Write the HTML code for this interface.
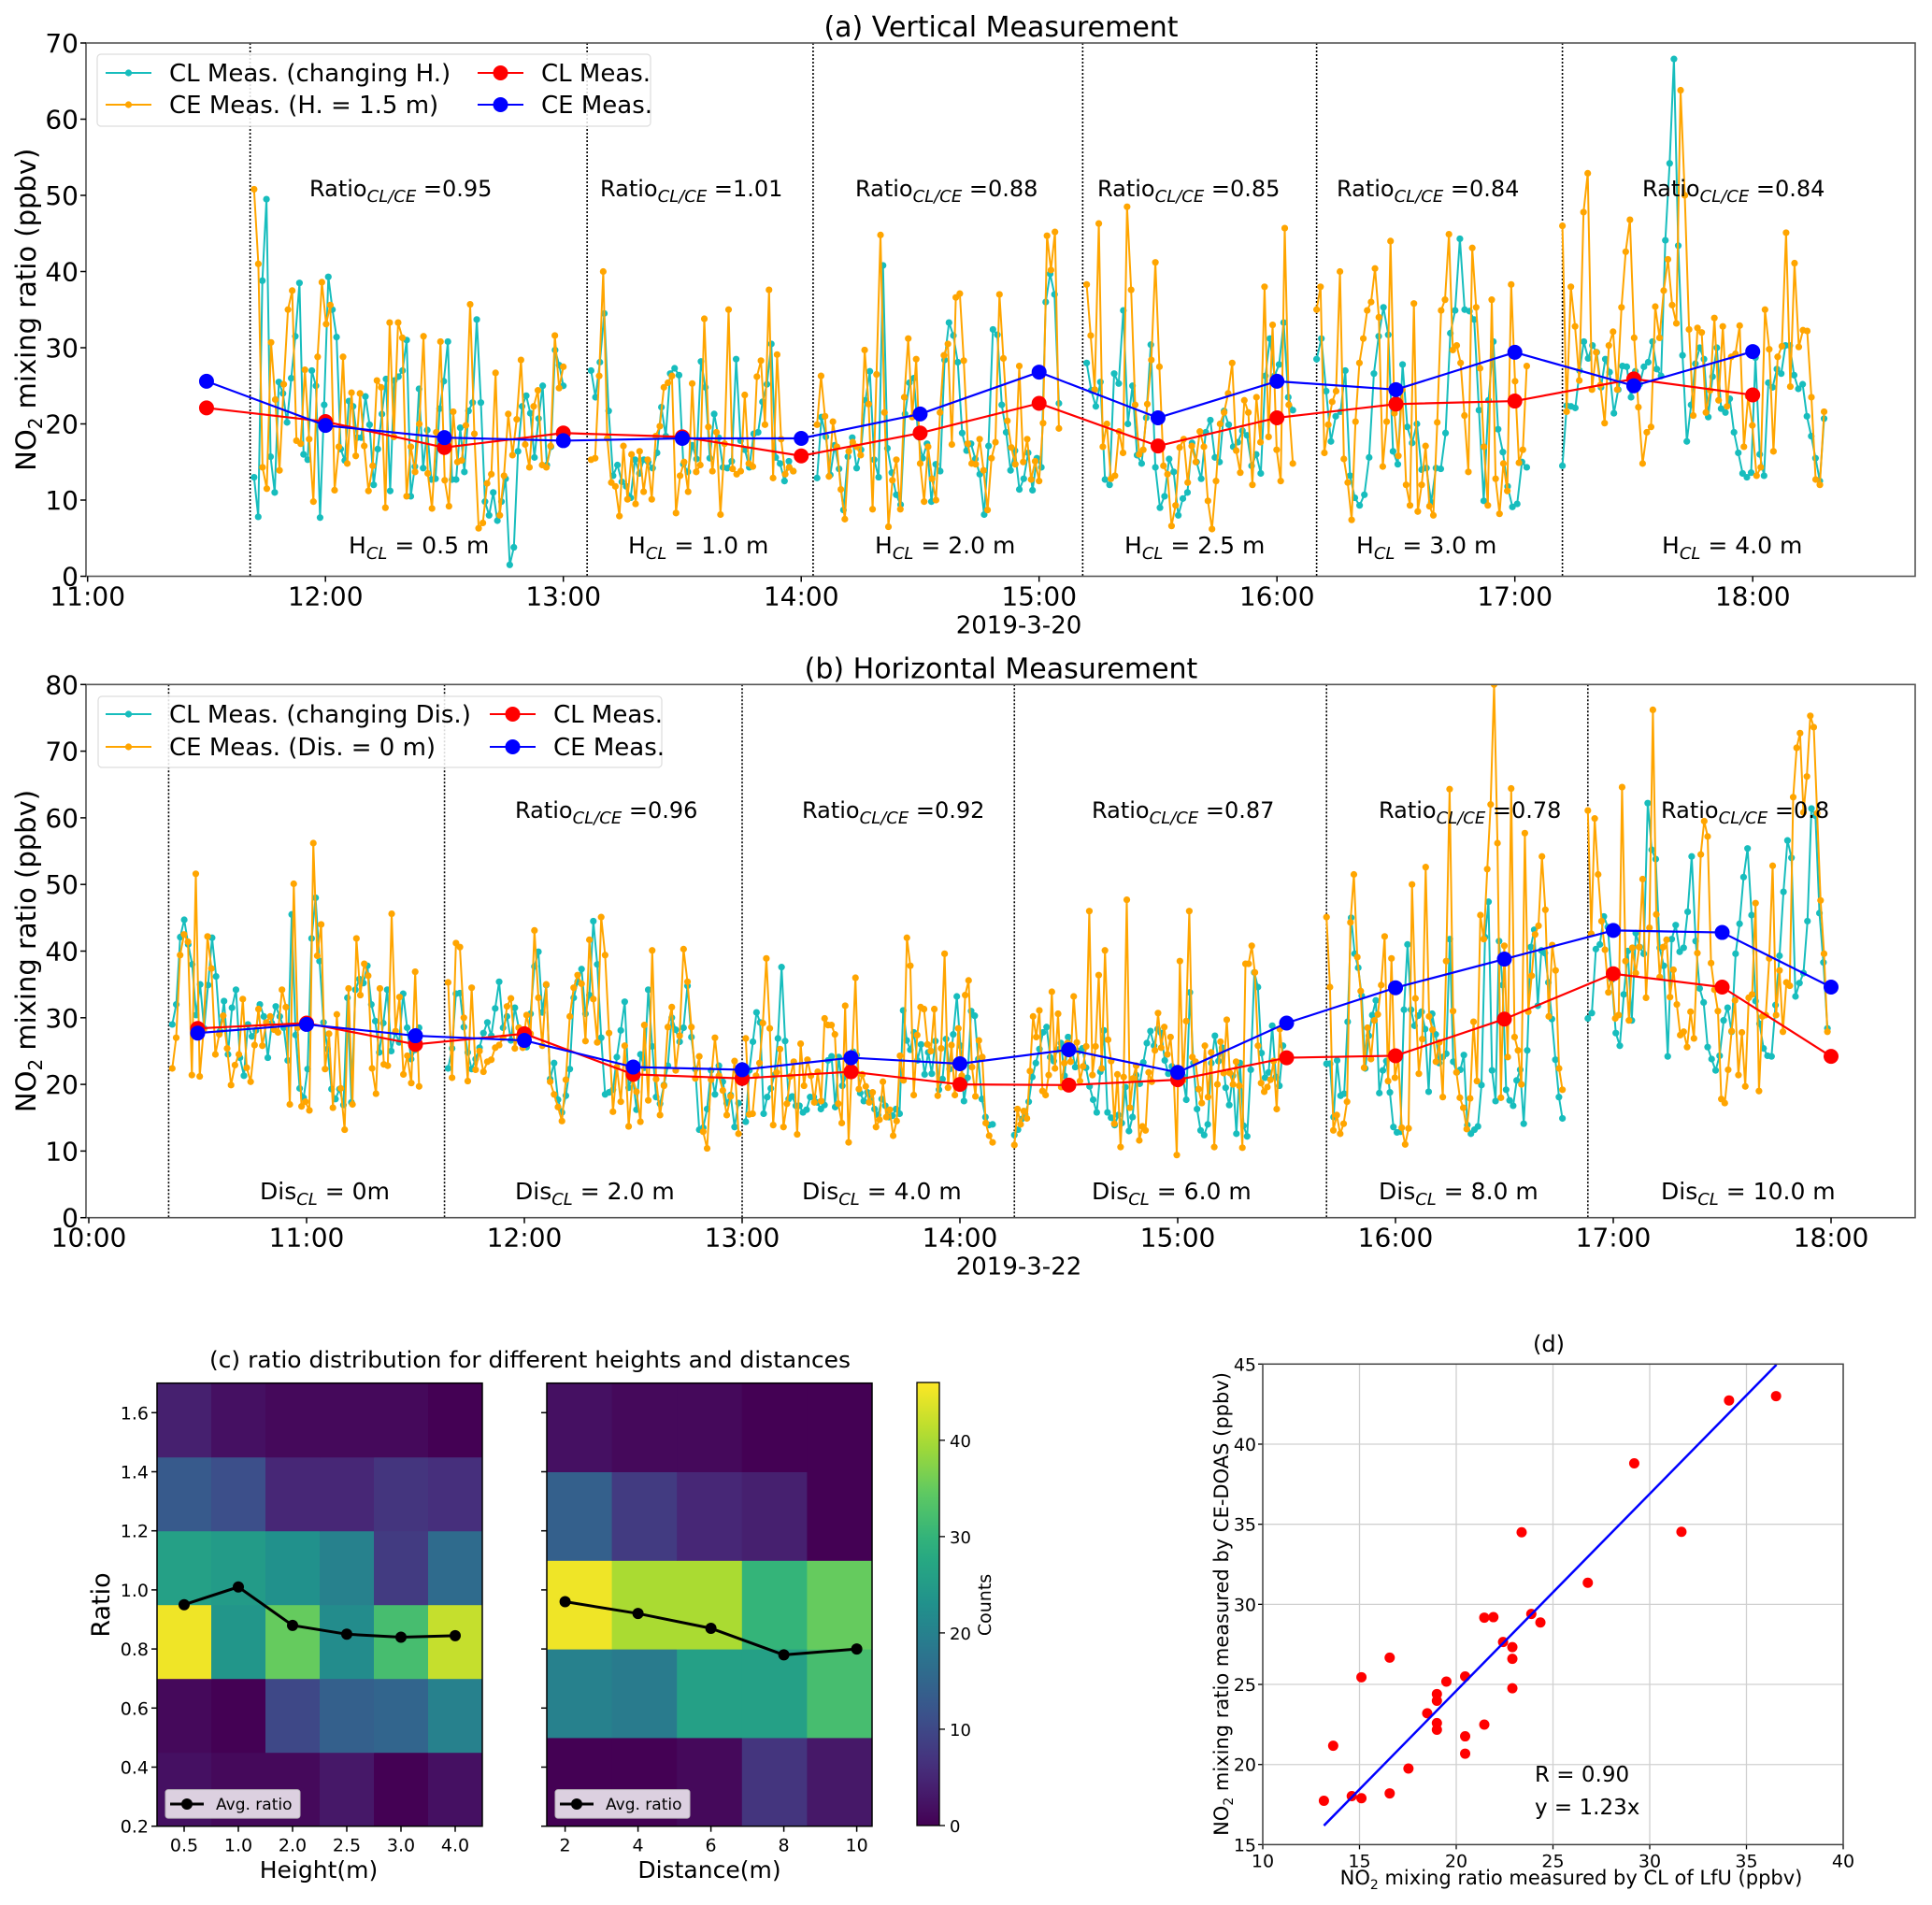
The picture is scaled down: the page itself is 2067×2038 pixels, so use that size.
<!DOCTYPE html>
<html><head><meta charset="utf-8">
<style>
html,body{margin:0;padding:0;background:#fff;}
svg{display:block;font-family:"DejaVu Sans","Liberation Sans",sans-serif;}
</style></head>
<body>
<svg id="fig" xmlns="http://www.w3.org/2000/svg" width="2067" height="2038" viewBox="0 0 2067 2038">
<rect x="0" y="0" width="2067" height="2038" fill="#fff"/>
</svg>
<script>
// ---------- Panel (a) data ----------
const aSegStart=["11:42","13:07","14:04","15:12","16:10","17:12"];
const aSegEnd=["13:00","13:58","15:05","16:04","17:03","18:18"];
const aDivTimes=["11:41","13:06","14:03","15:11","16:10","17:12"];
const aCE1=[50.8,41,14.3,11.5,30.7,23.2,13.9,25.2,35,37.5,17.8,17.4,27.1,18,9.8,28.8,38.6,33.1,35.6,11.3,17,28.8,14.8,24.1,15.8,24,17.1,11.2,14.5,25.7,24.8,9,33.3,18.3,33.3,31.3,10.5,17,13.7,20,31.5,13.5,8.9,18.9,30.8,12.6,9.2,21.6,15,15.2,19.8,35.7,18.7,6.3,7,12.2,13.4,26.7,8,13.2,21.3,15.9,20.6,28.4,17.3,14.3,22.3,24.4,14.6,14.3,17.1,31.6,24.7,27.5];
const aCL1=[13,7.8,38.8,49.5,15.7,11,25.5,24,20.2,26,31.5,38.5,16,15.3,27,25,7.7,22.5,39.3,35,31.4,16.7,15.2,23,22.3,18.2,18.2,23.6,19.9,12,16.7,21.3,25.9,11.2,25.7,26.2,27,31,10.5,14.4,24.6,14.2,19.2,12.7,12.8,22,25.6,30.8,12.7,12.7,19.5,13.7,21.7,22.8,33.7,22.8,9.8,8,11,7.3,9.8,12.8,1.5,3.8,16.4,22.3,23.7,21.4,15.6,20.7,25,14.6,17,29.7,27.7,25];
const aCE2=[15.3,15.5,26.3,40,18.1,12.3,11.8,7.9,17.1,10.1,16,9.5,16.4,11.1,15.3,10.1,18.4,19.7,24.8,25.4,26.3,8.3,13.2,15,11.1,25.3,13.7,14.6,33.8,19.6,13.8,18.9,8.1,17.4,35,14.1,13.4,13.8,23.8,14.8,14.4,26.2,28.3,19.9,37.6,12.9,29.1,18,13.4,14.3,13.8];
const aCL2=[27,23.5,28.1,34.5,21.7,13.2,14.6,12.4,11.8,10.3,15.3,13.5,15.3,15,14.2,16.2,22.2,18.4,26.6,27.3,26.4,14.7,13.7,17.2,15.4,28.2,24.8,15.5,21.3,18.2,14.3,14.2,15.1,28.5,17.8,16.6,14.3,18.7,18.9,22.9,25.2,30.5,15.6,14.8,12.5,15.1,13.8];
const aCE3=[19.9,26.3,21,13.1,20.3,17,11.4,7.5,16.4,17.6,17,15.9,29.7,22.6,8.8,26.5,44.8,21.5,6.5,12.6,15.3,8.8,23.5,31.2,20.9,28.5,14.8,9.8,17,12.8,10,21.5,29,30.5,17.3,36.6,37.1,28.3,17.4,14.8,14.7,18,13.9,8.7,15.5,17.6,37,28.6,20.4,16.9,14.7,27.6,15,18,12.7,15.1,12.5,20.1,44.7,40.2,45.2,19.4];
const aCL3=[12.9,20.9,18.3,13.3,17.2,14.1,8.7,15.7,18.2,14.2,16.6,23.1,26.9,15.3,13,40.8,16.8,13.6,10.7,9.4,21.3,25.4,26,18.3,15.5,17.4,9.8,14.7,13.8,28.4,33.3,31.6,28.1,18.8,16.5,17.4,15.4,13.4,8.1,17.1,32.4,31.7,22.5,18.9,13.9,16.5,11.4,12.8,16.2,11.3,15.5,14.3,36,39.7,37,22.7];
const aCE4=[38.3,31.6,24.5,46.3,17,20,12.8,13.2,19,16.2,48.5,37.6,22.5,16,16.6,22.6,28.4,41.2,27.5,14.5,13.4,6.6,9.3,16.9,18,12.3,17.1,15,19,17,9.9,6.2,12.5,20,21.5,24,28,16.5,13.6,23.1,21.5,12,23.5,17.6,38,18.3,33,16.6,12.5,45.7,22.5,14.8];
const aCL4=[28,24.4,22.3,25.5,12.7,12,26.6,25.3,34.9,20,25,15.9,14.8,20.8,30.4,14.3,9,10.5,15.4,13.7,8,10.2,11,17.5,15,12.8,18.9,20.5,15.6,15,21.7,19.9,17,17.6,19.1,18.5,14.5,16,13.5,26.3,31.2,26.3,27.8,33.3,23.5,21.8];
const aCE5=[35,38,16.2,19.9,22.9,24.3,40,15.4,12.3,7.4,20.3,28,31.2,34.9,36,40.4,34,14.4,20.3,44,21.4,15.8,24.5,12,9.3,35.8,8.5,12,17.1,9.2,8,20.2,34.9,36.3,44.9,29.7,30.3,28,21.1,13.7,43.1,35.3,27.3,17,9.3,36.3,12.8,8.2,14.8,11.2,38.3,25.6,14.9,16.6,27.6];
const aCL5=[28.5,31.2,24.3,17.7,21,21.6,27,13.2,10.3,9.3,10.7,15.6,26.6,31.5,35.3,31.7,16.4,14.7,27.8,19.6,17.5,20,14,14.2,9.7,14.2,14.1,18.8,31.9,34.9,44.3,35,34.8,33.7,21.8,9.9,23.1,30.8,19.3,16.3,11.8,9.1,9.5,15,14.3];
const aCE6=[46,21.6,38,32.8,25.7,47.8,52.9,24.5,29.4,25.1,20.1,30.3,32.1,24.5,35.3,42.6,46.8,31.3,22.2,14.8,18.9,19.6,35.4,31.3,37.5,41.6,35.6,33.2,63.8,50,32.4,21.1,32.6,32,21.5,24.4,33.9,23.1,32.8,22.3,28.8,29.2,32.9,17,23.6,19.8,13.2,14.3,35,29.8,16.4,28.8,30.2,45.1,24.9,41.1,30.1,32.3,32.2,23.5,12.7,12,21.6];
const aCL6=[14.5,22.4,22.3,22.1,27,30.8,28.6,30.3,29.4,24.8,28.5,26.8,21.4,24.5,27.6,27.5,23.5,26.9,25.2,27.5,28.1,30.8,27.2,26.3,44.1,54.2,67.9,43.4,29,17.7,22.5,27.9,30,28.5,20.9,26.2,30,22,21.5,23.3,18.9,16.2,13.5,13,13.6,28.7,16,13.2,25.4,24.8,27.2,26.6,30.3,30.3,26.4,24.6,25.2,21,18.4,15.5,12.5,20.7];
const aAvgTimes=["11:30","12:00","12:30","13:00","13:30","14:00","14:30","15:00","15:30","16:00","16:30","17:00","17:30","18:00"];
const aAvgCL=[22.1,20.3,16.9,18.8,18.3,15.8,18.8,22.7,17.1,20.8,22.6,23.0,25.9,23.8];
const aAvgCE=[25.6,19.8,18.2,17.8,18.1,18.1,21.3,26.8,20.8,25.6,24.5,29.4,25.0,29.5];
const aRatios=["0.95","1.01","0.88","0.85","0.84","0.84"];
const aHeights=["0.5","1.0","2.0","2.5","3.0","4.0"];
const aYTicks=[0,10,20,30,40,50,60,70];
const aXTicks=["11:00","12:00","13:00","14:00","15:00","16:00","17:00","18:00"];

// ---------- Panel (b) data ----------
const bSegStart=["10:23","11:39","13:01","14:15","15:41","16:53"];
const bSegEnd=["11:31","12:59","14:09","15:29","16:46","17:59"];
const bDivTimes=["10:22","11:38","13:00","14:15","15:41","16:53"];
const bCE1=[22.4,27,39.4,42.5,41.4,21.4,51.6,21.2,28.1,42.2,37.4,24.5,27.5,30.3,25.4,19.9,22.9,24.5,32.8,22.5,20.4,25.9,31.3,25.8,29.3,30.2,28.2,27.8,34.2,31.6,17,50.1,28.5,16.7,17.4,16.1,56.2,39.3,44,22.3,27.6,16.5,30.5,19.4,13.2,34.4,17,41.9,33.4,38.1,36.3,22.4,18.6,34.4,23,22.8,45.6,28,33.1,21.5,24.3,20.2,36.9,19.7];
const bCL1=[29,32,42.1,44.7,41,38,30.4,35,28.4,34.9,42,36.2,28,32.5,24.5,31.5,34.2,24,21.3,29,27.2,28.1,32,30.2,24,29.2,31.7,30.2,28.5,23.6,45.5,27.4,19.4,18,22.3,41.9,48,38.5,29.3,25.3,19.3,17.8,19.3,16.9,33,17.3,34.2,35.8,35.2,37.8,32,29.5,24.8,29.2,34.2,25,27.8,26.3,33.6,28.5,23.8,25.2,28.5];
const bCE2=[35.3,21,41.2,40.6,30,20.5,34.5,22.2,25,21.9,23.4,23.7,25.5,25.9,27,31.7,32.9,25.4,28.5,25.5,30.4,27.6,43.1,33,25.8,35,20.4,18.5,16.6,14.5,20.7,30.2,34.5,36.4,35.1,26.5,41.7,32.8,26.3,45.1,39.4,27.7,15.9,22.6,17.4,25.8,13.7,20.9,18.9,14.4,28.9,17.6,40.1,20.8,15.4,19.8,28.6,31.6,22.1,27.3,40.3,35.4,28.6,20.9,24.2,12.9,10.4,20.7,27,21.3,19.1,15.4,18.2,23.5,12.6];
const bCL2=[22.4,25.4,33.6,33.7,28.6,24.8,22.3,23.8,25.5,27.7,29.3,27.3,31.4,35.4,28.5,30.2,26.6,31.5,28.5,28,25.6,30.6,37.7,39.9,30.8,34.9,20.8,23.2,17.7,15.8,18.3,22.3,33,35.4,37.3,30.6,33.4,44.5,38,27,18.5,18.8,19.2,24.1,28.1,32.4,19.5,21.4,16.2,24.5,22.5,34.2,25.7,18.1,17.1,19.9,22.8,30,28.2,26.4,28.5,34.8,27.1,22.3,13.2,13.5,16.3,22.1,18.5,22.8,20.4,17.2,18.4,13.6,17.2];
const bCE3=[26.9,15.5,15.6,21.3,23.2,29.2,38.9,28.4,13.9,21.8,25.3,13.6,17.1,21.2,23.4,12.5,26.1,19.8,23.7,21.3,17.3,21.9,17.5,29.9,28.9,28.9,27.5,17.1,14.2,31.8,11.3,23.7,36,19.3,21.5,19.7,17.3,18.8,13.6,14.7,20.4,15.1,16.2,12.3,14.5,24.3,20.6,42,37.8,18.4,27.4,31.6,31.3,26,25,31.3,18.3,25.4,39.6,19.5,25.9,18.4,28.4,21.3,33.4,35.6,22.6,18.2,26.6,24.1,14.2,12.3,11.3];
const bCL3=[14.4,22.1,26.4,30.8,29.3,15.6,18.1,19.4,21.4,26.9,37.6,26.5,17.8,18.2,16.8,16.8,15.8,16.2,18.1,18.1,17.3,16.3,16.9,23.6,24.2,16.6,24.1,19.8,21.2,24.5,24.9,24.4,18.7,17.5,18.8,17.9,16.3,15.4,17.8,16.8,15.1,15.3,16.3,15.6,31.1,26.6,25.2,27.8,23.6,26,21.5,24.8,21.6,26.5,19.2,20.8,26.8,22.3,27.5,33.2,25.8,17.5,21,31,30.3,23.8,17.8,15.1,13.9,14];
const bCE4=[10.9,16.3,14,16,14.9,22,30.2,27.1,31.1,19,18.4,21.4,33.9,22.4,30.6,19.6,23.2,26.2,23.4,33.2,26.3,20.5,22.7,25.7,46,21.4,25.7,36.4,22.4,40.1,26.7,23.5,14.1,21.5,10.6,21.1,47.7,16.5,20.9,22.8,11.6,13.7,13.1,21.8,20.4,25.1,30.7,25.5,28.6,24.5,27.1,21.4,9.4,38.5,20.6,29.5,46,24.1,23.4,19.3,17.2,25.8,18.1,24.8,10.6,20,26.4,21.7,29.7,21.7,20,23.4,19.8,10.5,38.1,38.1,40.8,36.8,25.8,20.2,18.9,19.6,20.7,23.5,16.3,28.3,23.6];
const bCL4=[12.4,13.2,14.8,15.5,17.4,21.1,23.2,25.3,27.8,28.6,24.1,23.5,25.2,26.2,21.3,27.1,25.5,22.6,25,25.4,22.5,19.7,17.7,15.8,21.9,28.1,15.8,15,13.9,15.4,14.2,19.6,13,15.1,21.4,20.1,23.3,26.2,28,25.8,28.3,27.7,23.6,21.6,22.7,22.2,20.4,21.3,17.7,33.8,23.2,16.3,13.1,12.4,14,23.2,27.3,23.5,25.5,19.5,16.9,21.3,12.6,23.2,13.8,12.2,22.2,36.8,34.6,24.7,21,21.8,28.8,21.1,19.8,25.8];
const bCE5=[45.1,34.6,13.1,15.4,12.6,14.1,17.4,44.3,51.5,39.1,34,22.5,28.5,23.8,29.6,30.5,34.9,42.2,20.5,38.9,21,24,13.5,11,13.4,50,32.9,21.6,26.8,52.6,30.2,28.2,23.4,26.3,18.1,38.5,64.3,31,21.8,18,16.5,13.3,17.9,29.4,20.5,45.4,41.8,52.3,62,80,56.2,18,40.8,24.1,64.4,27.1,25.1,20,57.7,30.9,36.3,42.5,43.8,54.2,46.2,30.2,40.9,37.1,22.4,19.2];
const bCL5=[23.1,23.1,15.1,23.6,18.3,18.6,29.4,45,39.6,37.5,33.3,22.4,27.3,30.4,32.6,18.7,22.1,23.5,18.8,13.6,12.8,12.9,31.2,41,31.2,28.8,30.3,30.9,28.3,18.9,30.6,27.5,23.2,24.1,24.6,41.8,23.4,21.8,22.2,24.4,13.9,12.6,13.2,13.7,19.9,42.1,47.4,22.1,17.5,41.5,34.9,19.2,17.6,16.8,20.6,22.2,14.1,25.1,40.6,43.2,31.8,40.1,39.7,35.3,29.8,23.7,18.1,14.9];
const bCE6=[61.1,42.6,59.9,51.5,44.5,40.2,33.8,36.2,29.9,30.4,64.6,38.5,29.6,40.5,36.7,40.6,50.8,33,43.5,76.2,45.5,36.1,40.6,41.7,33.1,37.2,32,27.4,27.9,25.6,30.9,26.9,39.7,54.5,59.5,57.2,38.2,34.2,31,17.8,17.2,22.2,28,32.6,21.4,27.8,19.7,33,33.5,47.2,19,30.2,30.4,38.9,52.8,30.4,37.1,27.9,35.3,34.8,63.1,70.5,72.7,60.8,66.2,75.3,73.6,60.7,47.6,39.6,27.9];
const bCL6=[29.9,30.7,40.3,41,45.2,43.6,35.7,27.7,25.8,33.5,40,29.6,42.7,40.6,39.6,62.2,55.2,53.8,40.5,37.8,24.2,41.8,43.9,39.9,40.5,45.9,54.2,41.5,34.4,32.3,25.6,23.8,22.1,24.3,29.6,31.5,27.9,39.6,44.1,51.1,55.4,45.4,32.5,29.1,25.4,24.3,24.2,31.9,39.3,48.9,56.6,54,33.2,35.2,36.7,44.5,61.4,60.3,45.7,38.3,28.4];
const bAvgTimes=["10:30","11:00","11:30","12:00","12:30","13:00","13:30","14:00","14:30","15:00","15:30","16:00","16:30","17:00","17:30","18:00"];
const bAvgCL=[28.4,29.2,26.0,27.6,21.5,20.9,21.9,20.0,19.9,20.7,24.0,24.3,29.8,36.6,34.6,24.2];
const bAvgCE=[27.7,29.0,27.3,26.6,22.6,22.2,24.0,23.1,25.2,21.8,29.2,34.5,38.8,43.1,42.8,34.6];
const bRatios=[null,"0.96","0.92","0.87","0.78","0.8"];
const bDists=["0m","2.0 m","4.0 m","6.0 m","8.0 m","10.0 m"];
const bYTicks=[0,10,20,30,40,50,60,70,80];
const bXTicks=["10:00","11:00","12:00","13:00","14:00","15:00","16:00","17:00","18:00"];

// ---------- Panel (c) data ----------
const cHeights=["0.5","1.0","2.0","2.5","3.0","4.0"];
const cHeightEdges=[0.2,0.45,0.7,0.95,1.2,1.45,1.7];
const cHeightCounts=[
 [2,1,1,3,0,2],
 [1,0,10,14,15,20],
 [45,24,35,22,32,42],
 [26,25,23,20,8,16],
 [13,11,5,5,7,6],
 [4,2,1,1,1,0]];
const cHeightAvg=[0.95,1.01,0.88,0.85,0.84,0.845];
const cDists=[2,4,6,8,10];
const cDistEdges=[0.2,0.5,0.8,1.1,1.4,1.7];
const cDistCounts=[
 [0,0,1,7,3],
 [20,19,26,26,32],
 [45,40,40,30,35],
 [14,8,5,4,0],
 [2,1,1,0,0]];
const cDistAvg=[0.96,0.92,0.87,0.78,0.80];
const cYTicks=[0.2,0.4,0.6,0.8,1.0,1.2,1.4,1.6];
const cCbarTicks=[0,10,20,30,40];

// ---------- Panel (d) data ----------
const dX=[13.16,13.64,14.6,15.1,15.1,16.56,16.56,17.53,18.5,19.0,19.0,19.0,19.0,19.49,20.46,20.46,20.46,21.45,21.92,21.45,22.42,22.9,22.9,22.9,23.38,23.88,24.35,26.8,29.2,31.64,34.1,36.53];
const dY=[17.74,21.17,18.03,17.9,25.45,26.67,18.2,19.75,23.2,24.4,23.98,22.59,22.17,25.18,25.5,21.76,20.68,29.17,29.2,22.49,27.65,27.33,26.6,24.76,34.5,29.4,28.87,31.35,38.8,34.53,42.73,43.0];
const dSlope=[1.23];
const dFitRange=[13.16,36.55];
const dXTicks=[10,15,20,25,30,35,40];
const dYTicks=[15,20,25,30,35,40,45];

// ---------- drawing ----------
const NS="http://www.w3.org/2000/svg";
const svg=document.getElementById('fig');
function mk(tag,attrs,parent){const e=document.createElementNS(NS,tag);for(const k in attrs)e.setAttribute(k,attrs[k]);(parent||svg).appendChild(e);return e;}
function txt(s,x,y,size,anchor,parent,extra){const t=mk('text',Object.assign({x:x,y:y,'font-size':size,'text-anchor':anchor||'start',fill:'#000'},extra||{}),parent);t.textContent=s;return t;}
function hm(s){const p=s.split(':');return +p[0]+ +p[1]/60;}
const TEAL="#17bdbd",ORANGE="#ffa500";

function timeSeriesPanel(cfg){
  const g=mk('g',{});
  
  
  const X=t=>cfg.x0+(t-cfg.t0)*cfg.pxh, Y=v=>cfg.yb-v*cfg.ppu;
  const L=92,R=2049,T=cfg.yb-cfg.ymax*cfg.ppu,B=cfg.yb;
  const clip=mk('clipPath',{id:cfg.name+'-clip'},g);mk('rect',{x:L,y:T,width:R-L,height:B-T},clip);
  cfg.div.forEach(s=>{const l=mk('line',{x1:X(hm(s)),x2:X(hm(s)),y1:T,y2:B,stroke:'#000','stroke-width':1.6,'stroke-dasharray':'2,2'},g);
    });
  const pg=mk('g',{'clip-path':'url(#'+cfg.name+'-clip)'},g);
  function series(vals,s,e,color,nm){
    const t0=hm(s),t1=hm(e),n=vals.length;
    const pts=vals.map((v,i)=>[X(t0+(t1-t0)*i/(n-1)),Y(v)]);
    const pl=mk('polyline',{points:pts.map(p=>p[0].toFixed(1)+','+p[1].toFixed(1)).join(' '),fill:'none',stroke:color,'stroke-width':2},pg);
    
    pts.forEach(p=>{const c=mk('circle',{cx:p[0],cy:p[1],r:3.6,fill:color},pg);
      });
  }
  cfg.cl.forEach((v,i)=>series(v,cfg.ss[i],cfg.se[i],TEAL,'cl-series'));
  cfg.ce.forEach((v,i)=>series(v,cfg.ss[i],cfg.se[i],ORANGE,'ce-series'));
  function avg(vals,color,nm){
    const pts=vals.map((v,i)=>[X(hm(cfg.avgT[i])),Y(v)]);
    const pl=mk('polyline',{points:pts.map(p=>p.join(',')).join(' '),fill:'none',stroke:color,'stroke-width':2.2},pg);
    
    pts.forEach(p=>{const c=mk('circle',{cx:p[0],cy:p[1],r:8,fill:color},pg);
      });
  }
  avg(cfg.avgCL,'#ff0000','cl-average');
  avg(cfg.avgCE,'#0000ff','ce-average');
  const fr=mk('rect',{x:L,y:T,width:R-L,height:B-T,fill:'none',stroke:'#555','stroke-width':1.6},g);
  
  cfg.yt.forEach(v=>{mk('line',{x1:L-6,x2:L,y1:Y(v),y2:Y(v),stroke:'#000','stroke-width':1.5},g);
    const t=txt(String(v),L-8,Y(v)+10,28,'end',g);});
  cfg.xt.forEach(s=>{const x=X(hm(s));mk('line',{x1:x,x2:x,y1:B,y2:B+6,stroke:'#000','stroke-width':1.5},g);
    const t=txt(s,x,B+31,28,'middle',g);});
  let t=txt(cfg.title,1071,T-7,30,'middle',g);
  t=txt(cfg.date,1090,B+61,26,'middle',g);
  const yl=mk('text',{x:0,y:0,'font-size':29,'text-anchor':'middle',transform:'translate(38,'+((T+B)/2)+') rotate(-90)'},g);
  
  yl.innerHTML='NO<tspan font-size="20" dy="7">2</tspan><tspan dy="-7"> mixing ratio (ppbv)</tspan>';
  cfg.ratioX.forEach((x,i)=>{if(!cfg.ratios[i])return;
    const r=mk('text',{x:x,y:cfg.ratioY,'font-size':24},g);
    
    r.innerHTML='Ratio<tspan font-size="18" font-style="italic" dy="6">CL/CE</tspan><tspan dy="-6"> =' +cfg.ratios[i]+'</tspan>';});
  cfg.labX.forEach((x,i)=>{const r=mk('text',{x:x,y:cfg.labY,'font-size':25},g);
    
    r.innerHTML=cfg.labPre+'<tspan font-size="18" font-style="italic" dy="6">CL</tspan><tspan dy="-6">'+cfg.labSep+cfg.labs[i]+'</tspan>';});
  const lg=mk('g',{},g);
  const lb=cfg.leg;
  mk('rect',{x:lb.x,y:lb.y,width:lb.w,height:lb.h,rx:4,fill:'#fff','fill-opacity':0.85,stroke:'#ddd','stroke-width':1.2},lg);
  const items=[[lb.c1,lb.r1,TEAL,3.6,cfg.legText[0]],[lb.c1,lb.r2,ORANGE,3.6,cfg.legText[1]],[lb.c2,lb.r1,'#ff0000',8,'CL Meas.'],[lb.c2,lb.r2,'#0000ff',8,'CE Meas.']];
  items.forEach(it=>{const e=mk('g',{},lg);
    mk('line',{x1:it[0],x2:it[0]+49,y1:it[1],y2:it[1],stroke:it[2],'stroke-width':2},e);
    mk('circle',{cx:it[0]+24.5,cy:it[1],r:it[3],fill:it[2]},e);
    txt(it[4],it[0]+68,it[1]+9,26,'start',e);});
}

timeSeriesPanel({name:'panel-a-vertical',t0:11,x0:93.7,pxh:254.5,yb:616.5,ppu:8.15,ymax:70,
  div:aDivTimes,ss:aSegStart,se:aSegEnd,cl:[aCL1,aCL2,aCL3,aCL4,aCL5,aCL6],ce:[aCE1,aCE2,aCE3,aCE4,aCE5,aCE6],
  avgT:aAvgTimes,avgCL:aAvgCL,avgCE:aAvgCE,yt:aYTicks,xt:aXTicks,title:'(a) Vertical Measurement',date:'2019-3-20',
  ratioX:[331,642,915,1174,1430,1757],ratioY:210,ratios:aRatios,labX:[373,672,936,1203,1451,1778],labY:592,labPre:'H',labSep:' = ',labs:aHeights.map(h=>h+' m'),
  leg:{x:104,y:58,w:592,h:77,c1:113,c2:511,r1:78,r2:112},legText:['CL Meas. (changing H.)','CE Meas. (H. = 1.5 m)']});
timeSeriesPanel({name:'panel-b-horizontal',t0:10,x0:95,pxh:233,yb:1302.7,ppu:7.13,ymax:80,
  div:bDivTimes,ss:bSegStart,se:bSegEnd,cl:[bCL1,bCL2,bCL3,bCL4,bCL5,bCL6],ce:[bCE1,bCE2,bCE3,bCE4,bCE5,bCE6],
  avgT:bAvgTimes,avgCL:bAvgCL,avgCE:bAvgCE,yt:bYTicks,xt:bXTicks,title:'(b) Horizontal Measurement',date:'2019-3-22',
  ratioX:[0,551,858,1168,1475,1777],ratioY:875,ratios:bRatios,labX:[278,551,858,1168,1475,1777],labY:1283,labPre:'Dis',labSep:' = ',labs:bDists,
  leg:{x:105,y:745,w:603,h:76,c1:113,c2:524,r1:764,r2:799},legText:['CL Meas. (changing Dis.)','CE Meas. (Dis. = 0 m)']});

// ---------- viridis ----------
const VIR=["#440154","#472d7b","#3b528b","#2c728e","#21918c","#28ae80","#5ec962","#addc30","#fde725"];
function hex(h){return [1,3,5].map(i=>parseInt(h.substr(i,2),16));}
function viridis(f){f=Math.max(0,Math.min(1,f));const p=f*(VIR.length-1),i=Math.min(VIR.length-2,Math.floor(p)),u=p-i;
  const a=hex(VIR[i]),b=hex(VIR[i+1]);return 'rgb('+a.map((v,k)=>Math.round(v+(b[k]-v)*u)).join(',')+')';}
const VMAX=46;

// ---------- Panel (c) ----------
(function(){
  const g=mk('g',{});
  const T=1479.7,B=1953.7,Y=r=>B-(r-0.2)*316;
  let t=txt('(c) ratio distribution for different heights and distances',567,1463,24,'middle',g,{textLength:686,lengthAdjust:'spacingAndGlyphs'});
  
  function heat(L,R,ncol,edges,counts,name){
    const hg=mk('g',{},g);
    const w=(R-L)/ncol;
    counts.forEach((row,ri)=>row.forEach((c,ci)=>{const r=mk('rect',{x:L+ci*w,y:Y(edges[ri+1]),width:w+0.5,height:Y(edges[ri])-Y(edges[ri+1])+0.5,fill:viridis(c/VMAX)},hg);
      }));
    mk('rect',{x:L,y:T,width:R-L,height:B-T,fill:'none',stroke:'#000','stroke-width':1.5},hg);
    cYTicks.forEach(v=>mk('line',{x1:L-6,x2:L,y1:Y(v),y2:Y(v),stroke:'#000','stroke-width':1.5},hg));
    return hg;
  }
  function avgLine(hg,xs,vals,L){
    const pts=xs.map((x,i)=>[x,Y(vals[i])]);
    const pl=mk('polyline',{points:pts.map(p=>p.join(',')).join(' '),fill:'none',stroke:'#000','stroke-width':3},hg);
    
    pts.forEach(p=>{const c=mk('circle',{cx:p[0],cy:p[1],r:6,fill:'#000'},hg);});
    const lg=mk('g',{},hg);
    mk('rect',{x:L+9,y:1914.6,width:144,height:30.5,rx:3,fill:'#dcd0e0',stroke:'#bbb','stroke-width':1},lg);
    mk('line',{x1:L+14,x2:L+50,y1:1930,y2:1930,stroke:'#000','stroke-width':3},lg);
    mk('circle',{cx:L+32,cy:1930,r:6,fill:'#000'},lg);
    txt('Avg. ratio',L+63,1936,17,'start',lg);
  }
  const Lh=168,Rh=516,wc=(Rh-Lh)/6;
  const hg1=heat(Lh,Rh,6,cHeightEdges,cHeightCounts,'heatmap-height');
  const xs1=cHeights.map((h,i)=>Lh+wc*(i+0.5));
  avgLine(hg1,xs1,cHeightAvg,Lh);
  cYTicks.forEach(v=>{const t=txt(v.toFixed(1),Lh-9,Y(v)+7,19,'end',g);});
  cHeights.forEach((h,i)=>{mk('line',{x1:xs1[i],x2:xs1[i],y1:B,y2:B+6,stroke:'#000','stroke-width':1.5},g);
    const t=txt(h,xs1[i],B+27,19,'middle',g);});
  t=txt('Height(m)',341,2009,25,'middle',g);
  t=mk('text',{x:0,y:0,'font-size':27,'text-anchor':'middle',transform:'translate(117,1717) rotate(-90)'},g);t.textContent='Ratio';
  
  const Ld=585,Rd=933,XD=d=>604.6+(d-2)*39;
  const hg2=heat(Ld,Rd,5,cDistEdges,cDistCounts,'heatmap-distance');
  const xs2=cDists.map(d=>XD(d));
  avgLine(hg2,xs2,cDistAvg,Ld);
  cDists.forEach((d,i)=>{mk('line',{x1:xs2[i],x2:xs2[i],y1:B,y2:B+6,stroke:'#000','stroke-width':1.5},g);
    const t=txt(String(d),xs2[i],B+27,19,'middle',g);});
  t=txt('Distance(m)',759,2009,25,'middle',g);
  const cb=mk('g',{},g);
  const defs=mk('defs',{},cb);const lgr=mk('linearGradient',{id:'vir',x1:0,y1:1,x2:0,y2:0},defs);
  for(let i=0;i<=20;i++)mk('stop',{offset:(i/20),'stop-color':viridis(i/20)},lgr);
  const CT=1479,CB=1953;
  mk('rect',{x:981,y:CT,width:24,height:CB-CT,fill:'url(#vir)',stroke:'#000','stroke-width':1.3},cb);
  cCbarTicks.forEach(v=>{const y=CB-v/VMAX*(CB-CT);mk('line',{x1:1005,x2:1011,y1:y,y2:y,stroke:'#000','stroke-width':1.3},cb);
    const t=txt(String(v),1016,y+7,18,'start',cb);});
  t=mk('text',{x:0,y:0,'font-size':19,'text-anchor':'middle',transform:'translate(1060,1717) rotate(-90)'},cb);t.textContent='Counts';
  
})();

// ---------- Panel (d) ----------
(function(){
  const g=mk('g',{});
  const L=1351,R=1972,T=1459.3,B=1973.4;
  const X=v=>L+(v-10)*(R-L)/30, Y=v=>B-(v-15)*(B-T)/30;
  dXTicks.forEach(v=>{mk('line',{x1:X(v),x2:X(v),y1:T,y2:B,stroke:'#d0d0d0','stroke-width':1.3},g);
    mk('line',{x1:X(v),x2:X(v),y1:B,y2:B+5,stroke:'#000','stroke-width':1.3},g);
    const t=txt(String(v),X(v),B+24,19,'middle',g);});
  dYTicks.forEach(v=>{mk('line',{x1:L,x2:R,y1:Y(v),y2:Y(v),stroke:'#d0d0d0','stroke-width':1.3},g);
    mk('line',{x1:L-5,x2:L,y1:Y(v),y2:Y(v),stroke:'#000','stroke-width':1.3},g);
    const t=txt(String(v),L-7,Y(v)+7,19,'end',g);});
  dX.forEach((x,i)=>{const c=mk('circle',{cx:X(x),cy:Y(dY[i]),r:5.5,fill:'#ff0000'},g);
    });
  const fl=mk('line',{x1:X(dFitRange[0]),y1:Y(dFitRange[0]*dSlope[0]),x2:X(dFitRange[1]),y2:Y(dFitRange[1]*dSlope[0]),stroke:'#0000ff','stroke-width':2.5},g);
  
  mk('rect',{x:L,y:T,width:R-L,height:B-T,fill:'none',stroke:'#444','stroke-width':1.5},g);
  let t=txt('R = 0.90',1642,1906,23,'start',g);
  t=txt('y = 1.23x',1642,1941,23,'start',g);
  t=txt('(d)',1657,1446,24,'middle',g);
  t=mk('text',{x:1681,y:2016,'font-size':21,'text-anchor':'middle'},g);
  t.innerHTML='NO<tspan font-size="14" dy="5">2</tspan><tspan dy="-5"> mixing ratio measured by CL of LfU (ppbv)</tspan>';
  
  t=mk('text',{x:0,y:0,'font-size':21,'text-anchor':'middle',transform:'translate(1314,1716) rotate(-90)'},g);
  t.innerHTML='NO<tspan font-size="14" dy="5">2</tspan><tspan dy="-5"> mixing ratio measured by CE-DOAS (ppbv)</tspan>';
  
})();
</script>
</body></html>
